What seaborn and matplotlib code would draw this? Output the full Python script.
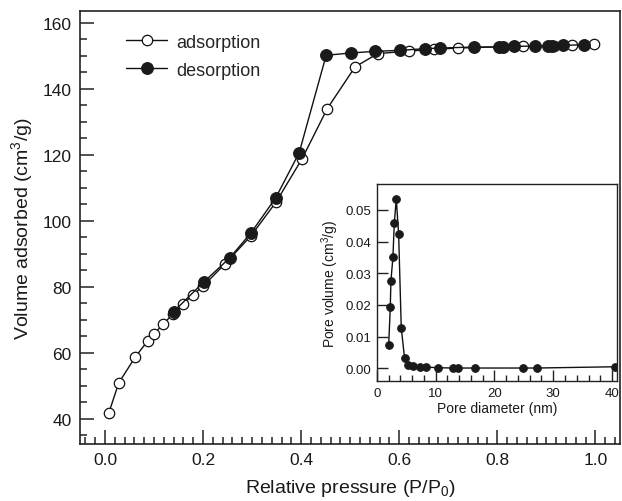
import numpy as np
import matplotlib
matplotlib.use("Agg")
import matplotlib.pyplot as plt
from matplotlib.ticker import MultipleLocator
import seaborn as sns

# adsorption branch (open circles)
ads_p = [0.008, 0.028, 0.062, 0.087, 0.100, 0.119, 0.139, 0.159, 0.180, 0.200,
         0.245, 0.298, 0.349, 0.402, 0.453, 0.510, 0.556, 0.620, 0.671, 0.720,
         0.852, 0.916, 0.952, 0.998]
ads_v = [41.9, 50.9, 58.8, 63.6, 65.7, 68.8, 71.8, 74.8, 77.6, 80.2,
         87.0, 95.5, 105.7, 118.8, 133.9, 146.6, 150.6, 151.4, 151.9, 152.3,
         152.9, 152.9, 153.1, 153.4]

# desorption branch (filled circles)
des_p = [0.140, 0.201, 0.254, 0.298, 0.348, 0.396, 0.451, 0.501, 0.551, 0.601,
         0.652, 0.683, 0.752, 0.803, 0.811, 0.835, 0.877, 0.903, 0.911, 0.935,
         0.976]
des_v = [72.5, 81.4, 88.7, 96.4, 106.9, 120.6, 150.1, 150.8, 151.3, 151.6,
         152.1, 152.3, 152.6, 152.6, 152.6, 152.8, 152.9, 152.9, 152.9, 153.1,
         153.3]

# pore size distribution (inset)
pore_d = [2.0, 2.27, 2.38, 2.72, 2.95, 3.29, 3.69, 4.14, 4.7, 5.3, 6.2, 7.3,
          8.3, 10.4, 12.9, 13.8, 16.7, 24.9, 27.2, 40.5]
pore_v = [0.0074, 0.0192, 0.0276, 0.0350, 0.0457, 0.0534, 0.0425, 0.0128,
          0.0032, 0.0010, 0.0006, 0.0004, 0.0004, 0.0002, 0.0001, 0.0001,
          0.0001, 0.0001, 0.0001, 0.0005]

sns.set_style("ticks")
plt.rcParams['font.family'] = ['Liberation Sans', 'DejaVu Sans']
plt.rcParams['mathtext.fontset'] = 'custom'
plt.rcParams['mathtext.rm'] = 'Liberation Sans'

fig = plt.figure(figsize=(6.22, 5.02), dpi=100)
ax = fig.add_axes([0.1286, 0.1135, 0.868, 0.8625])

sns.lineplot(x=ads_p, y=ads_v, ax=ax, color='#111111', lw=1.0, sort=False,
             estimator=None, marker='o', markersize=7.5, markerfacecolor='white',
             markeredgecolor='#111111', markeredgewidth=0.9, label='adsorption')
sns.lineplot(x=des_p, y=des_v, ax=ax, color='#111111', lw=1.0, sort=False,
             estimator=None, marker='o', markersize=8.5, markerfacecolor='#1a1a1a',
             markeredgecolor='#1a1a1a', label='desorption')

ax.set_xlim(-0.051, 1.05)
ax.set_ylim(32.4, 163.5)
ax.xaxis.set_major_locator(MultipleLocator(0.2))
ax.xaxis.set_minor_locator(MultipleLocator(0.02))
ax.yaxis.set_major_locator(MultipleLocator(20))
ax.yaxis.set_minor_locator(MultipleLocator(5))
ax.tick_params(which='both', direction='in', top=False, right=False,
               width=1.1, color='#222222', labelsize=12.5, labelcolor='#1a1a1a')
ax.tick_params(which='major', length=10, pad=6)
ax.tick_params(which='minor', length=5)
ax.xaxis.set_major_formatter(matplotlib.ticker.FormatStrFormatter('%.1f'))
for s in ax.spines.values():
    s.set_linewidth(1.2)
    s.set_color('#222222')
ax.set_xlabel('Relative pressure (P/P$_0$)', fontsize=14, labelpad=7, color='#1a1a1a')
ax.set_ylabel('Volume adsorbed (cm$^3$/g)', fontsize=14, labelpad=5, color='#1a1a1a')

ax.legend(loc='upper left', bbox_to_anchor=(0.055, 0.985), frameon=False,
          fontsize=13, handlelength=2.3, handletextpad=0.5, labelspacing=0.6)

# inset
axi = fig.add_axes([0.606, 0.239, 0.386, 0.3915])
sns.lineplot(x=pore_d, y=pore_v, ax=axi, color='#111111', lw=1.0, sort=False,
             estimator=None, marker='o', markersize=5.5, markerfacecolor='#1a1a1a',
             markeredgecolor='#1a1a1a')
axi.set_xlim(0, 40.85)
axi.set_ylim(-0.004, 0.058)
axi.xaxis.set_major_locator(MultipleLocator(10))
axi.xaxis.set_minor_locator(MultipleLocator(2))
axi.yaxis.set_major_locator(MultipleLocator(0.01))
axi.yaxis.set_major_formatter(matplotlib.ticker.FormatStrFormatter('%.2f'))
axi.tick_params(which='both', direction='in', top=False, right=False,
                width=1.0, color='#222222', labelsize=9.5, labelcolor='#1a1a1a')
axi.tick_params(which='major', length=8, pad=4)
axi.tick_params(which='minor', length=4)
for s in axi.spines.values():
    s.set_linewidth(1.0)
    s.set_color('#222222')
axi.set_xlabel('Pore diameter (nm)', fontsize=10, labelpad=2, color='#1a1a1a')
axi.set_ylabel('Pore volume (cm$^3$/g)', fontsize=10, labelpad=3, color='#1a1a1a')

fig.savefig('out.png', dpi=100)
